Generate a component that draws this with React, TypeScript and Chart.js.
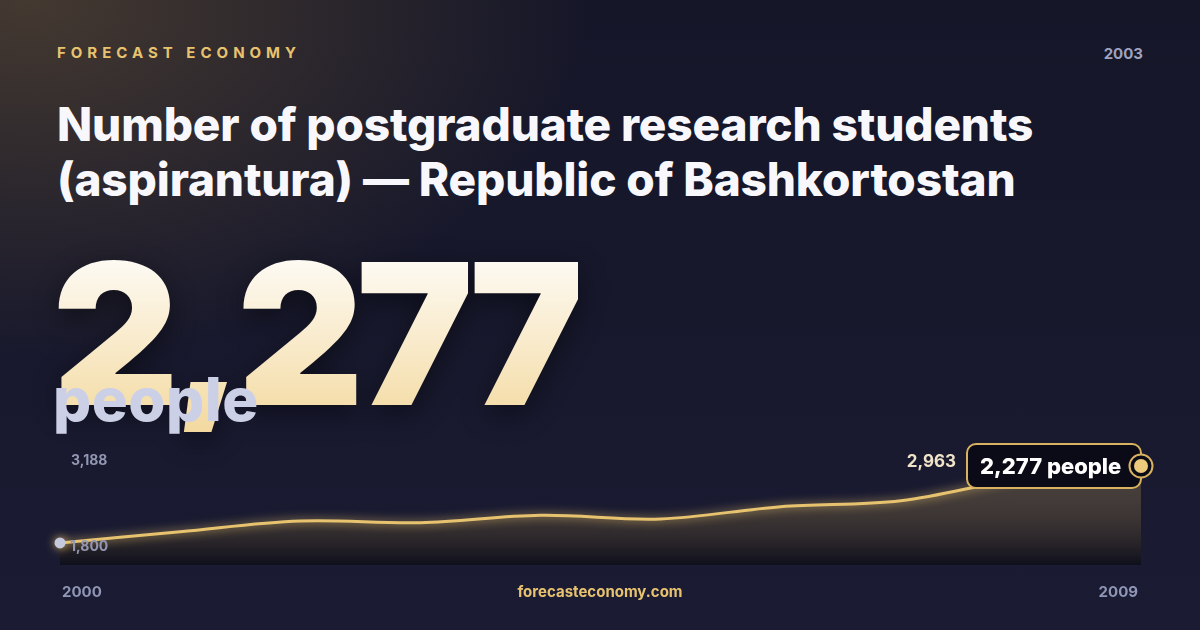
import { useEffect, useRef } from "react";
import Chart from "chart.js/auto";

const years = ["2000", "2001", "2002", "2003", "2004", "2005", "2006", "2007", "2008", "2009"];
const students = [1800, 2004, 2197, 2166, 2299, 2233, 2455, 2563, 2963, 3188];
const axisLabels = ["3,188", "1,800"];
const badgeText = "2,277 people";
const prevLabel = "2,963";

const GOLD = "#e8c36f";
const FONT = "Inter, 'Noto Sans', sans-serif";

const endMarks = {
  id: "endMarks",
  afterDatasetsDraw(chart: any) {
    const { ctx, chartArea } = chart;
    const meta = chart.getDatasetMeta(0);
    const last = meta.data[meta.data.length - 1];
    const first = meta.data[0];
    const yScale = chart.scales.y;
    const px = last.x;
    const py = last.y;

    ctx.save();
    // axis min / max labels
    ctx.font = `700 14px ${FONT}`;
    ctx.fillStyle = "#9497b3";
    ctx.textAlign = "left";
    ctx.textBaseline = "middle";
    ctx.fillText(axisLabels[0], chartArea.left + 11, yScale.getPixelForValue(Math.max(...students)) - 5);
    ctx.fillText(axisLabels[1], chartArea.left + 10, first.y + 4);

    // badge
    const w = 174;
    const h = 44;
    const left = px - w;
    const top = py - h / 2;
    ctx.beginPath();
    ctx.roundRect(left, top, w, h, 9);
    ctx.fillStyle = "#0b0b17";
    ctx.fill();
    ctx.lineWidth = 2;
    ctx.strokeStyle = "#d8b260";
    ctx.stroke();

    ctx.font = `800 22px ${FONT}`;
    ctx.fillStyle = "#ffffff";
    ctx.textBaseline = "middle";
    ctx.fillText(badgeText, left + 13, py + 1);

    ctx.font = `700 17px ${FONT}`;
    ctx.fillStyle = "#f0e4c8";
    ctx.textAlign = "right";
    ctx.fillText(prevLabel, left - 11, py - 4);

    // end point ring + dot
    ctx.beginPath();
    ctx.arc(px, py, 11.5, 0, Math.PI * 2);
    ctx.fillStyle = "#0b0b17";
    ctx.fill();
    ctx.lineWidth = 2;
    ctx.strokeStyle = "#d8b260";
    ctx.stroke();
    ctx.beginPath();
    ctx.arc(px, py, 7, 0, Math.PI * 2);
    ctx.fillStyle = "#ecca7c";
    ctx.fill();
    ctx.restore();
  },
};

const glow = {
  id: "glow",
  beforeDatasetDraw(chart: any) {
    chart.ctx.save();
    chart.ctx.shadowColor = "rgba(240, 200, 110, 0.85)";
    chart.ctx.shadowBlur = 10;
  },
  afterDatasetDraw(chart: any) {
    chart.ctx.restore();
  },
};

function Sparkline() {
  const canvasRef = useRef<HTMLCanvasElement | null>(null);

  useEffect(() => {
    if (!canvasRef.current) return;
    const chart = new Chart(canvasRef.current, {
      type: "line",
      data: {
        labels: years,
        datasets: [
          {
            data: students,
            borderColor: GOLD,
            borderWidth: 3,
            tension: 0.35,
            fill: "start",
            backgroundColor: (c: any) => {
              const area = c.chart.chartArea;
              if (!area) return "rgba(0,0,0,0)";
              const g = c.chart.ctx.createLinearGradient(0, area.top, 0, area.bottom);
              g.addColorStop(0, "rgba(232, 195, 111, 0.2)");
              g.addColorStop(1, "rgba(8, 8, 14, 0.6)");
              return g;
            },
            pointRadius: (c: any) => (c.dataIndex === 0 ? 5.5 : 0),
            pointBackgroundColor: "#c5c9de",
            pointBorderWidth: 0,
            clip: false,
          },
        ],
      },
      options: {
        animation: false,
        responsive: false,
        maintainAspectRatio: false,
        layout: { padding: { left: 20, right: 19, top: 25, bottom: 25 } },
        scales: {
          x: { display: false, offset: false },
          y: { display: false, min: 1403, max: 3386 },
        },
        plugins: { legend: { display: false }, tooltip: { enabled: false } },
      },
      plugins: [glow, endMarks],
    });
    return () => chart.destroy();
  }, []);

  return (
    <canvas
      ref={canvasRef}
      width={1120}
      height={160}
      style={{ position: "absolute", left: 40, top: 430, width: 1120, height: 160 }}
    />
  );
}

export default function App() {
  const text = { position: "absolute" as const, margin: 0, whiteSpace: "nowrap" as const };
  return (
    <div
      style={{
        position: "fixed",
        left: 0,
        top: 0,
        width: 1200,
        height: 630,
        overflow: "hidden",
        fontFamily: FONT,
        background:
          "radial-gradient(ellipse 560px 360px at 30px 0px, rgba(88, 72, 52, 0.7), rgba(88, 72, 52, 0) 100%), linear-gradient(180deg, #151628 0%, #17182c 50%, #1b1c34 100%)",
      }}
    >
      <div
        style={{
          ...text,
          left: 57,
          top: 43,
          lineHeight: "20px",
          fontSize: 15,
          fontWeight: 700,
          letterSpacing: 5,
          color: GOLD,
        }}
      >
        FORECAST ECONOMY
      </div>
      <div
        style={{ ...text, right: 57, top: 44, lineHeight: "20px", fontSize: 15, fontWeight: 700, color: "#9fa2bf" }}
      >
        2003
      </div>
      <div
        style={{
          ...text,
          left: 57,
          top: 97,
          fontSize: 46,
          lineHeight: "55px",
          fontWeight: 800,
          letterSpacing: -0.15,
          color: "#f8f8fc",
        }}
      >
        Number of postgraduate research students
        <br />
        (aspirantura) — Republic of Bashkortostan
      </div>
      <div
        style={{
          ...text,
          left: 52,
          top: 235,
          fontSize: 197,
          lineHeight: 1,
          fontWeight: 900,
          letterSpacing: -8,
          background: "linear-gradient(180deg, #ffffff 0%, #f3d99f 100%)",
          WebkitBackgroundClip: "text",
          backgroundClip: "text",
          color: "transparent",
          filter: "drop-shadow(0 8px 14px rgba(0,0,0,0.45))",
        }}
      >
        2,277
      </div>
      <div
        style={{
          ...text,
          left: 53,
          top: 369,
          fontSize: 60,
          lineHeight: 1,
          fontWeight: 800,
          letterSpacing: 0.5,
          color: "#ccd0e6",
        }}
      >
        people
      </div>
      <Sparkline />
      <div style={{ ...text, left: 62, top: 582, lineHeight: "20px", fontSize: 15, fontWeight: 700, color: "#9096b5" }}>
        {years[0]}
      </div>
      <div
        style={{
          ...text,
          left: 0,
          width: 1200,
          textAlign: "center",
          top: 582,
          lineHeight: "20px",
          fontSize: 15,
          fontWeight: 700,
          color: GOLD,
        }}
      >
        forecasteconomy.com
      </div>
      <div style={{ ...text, right: 62, top: 582, lineHeight: "20px", fontSize: 15, fontWeight: 700, color: "#9096b5" }}>
        {years[years.length - 1]}
      </div>
    </div>
  );
}
